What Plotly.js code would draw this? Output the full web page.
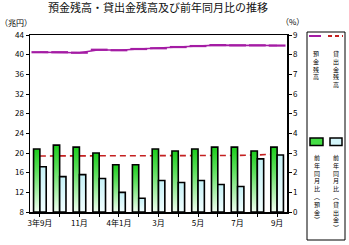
<!DOCTYPE html>
<html>
<head>
<meta charset="utf-8">
<script src="https://cdn.plot.ly/plotly-3.0.1.min.js"></script>
<style>
html,body{margin:0;padding:0;background:#fff;}
#chart{width:349px;height:245px;}
</style>
</head>
<body>
<div id="chart"></div>
<script>
// ---- data ----
const months = ['3年9月','10月','11月','12月','4年1月','2月','3月','4月','5月','6月','7月','8月','9月'];
const xTickText = ['3年9月','','11月','','4年1月','','3月','','5月','','7月','','9月'];
const depositBalance = [40.5,40.5,40.4,41.0,40.9,41.15,41.3,41.55,41.75,41.95,41.9,41.9,41.85]; // 兆円
const loanBalance = [19.4,19.4,19.4,19.4,19.4,19.4,19.5,19.5,19.4,19.4,19.5,19.6,19.8];        // 兆円
const depositYoY = [3.2,3.4,3.3,3.0,2.4,2.4,3.2,3.1,3.2,3.3,3.3,3.1,3.3];                     // %
const loanYoY = [2.3,1.8,1.9,1.7,1.0,0.7,1.6,1.5,1.6,1.4,1.3,2.7,2.9];                        // %
const leftTicks = [8,12,16,20,24,28,32,36,40,44];
const rightTicks = [0,1,2,3,4,5,6,7,8,9];
const seriesNames = ['預金残高','貸出金残高','前年同月比︵預金︶','前年同月比︵貸出金︶'];

// ---- layout helpers (pixel -> paper) ----
const W = 349, H = 245;
const M = {l:30, r:62, t:35, b:33};
const PW = W - M.l - M.r, PH = H - M.t - M.b;
const px = x => (x - M.l) / PW;
const py = y => (H - M.b - y) / PH;
const FONT = '"Noto Sans CJK JP", "Noto Sans", sans-serif';
const vert = s => Array.from(s).join('<br>');

const traces = [
  {type:'bar', name:seriesNames[2], x:months, y:depositYoY, yaxis:'y2',
   marker:{color:'#55dd55', line:{color:'#000', width:1.6}}, offsetgroup:'a', hoverinfo:'skip'},
  {type:'bar', name:seriesNames[3], x:months, y:loanYoY, yaxis:'y2',
   marker:{color:'#d4f6fa', line:{color:'#000', width:1.6}}, offsetgroup:'b', hoverinfo:'skip'},
  {type:'scatter', mode:'lines+markers', name:seriesNames[0], x:months, y:depositBalance, yaxis:'y',
   line:{color:'#a41ca4', width:1.6},
   marker:{symbol:'line-ew', size:12, line:{color:'#a41ca4', width:2.2}}},
  {type:'scatter', mode:'lines', name:seriesNames[1], x:months, y:loanBalance, yaxis:'y',
   line:{color:'#c42020', width:1.6, dash:'6px,4px'}}
];

const shapes = [
  // legend frame
  {type:'rect', xref:'paper', yref:'paper', x0:px(307), x1:px(345), y0:py(32), y1:py(240),
   line:{color:'#000', width:1}, fillcolor:'rgba(0,0,0,0)'},
  {type:'line', xref:'paper', yref:'paper', x0:px(309), x1:px(321), y0:py(36), y1:py(36),
   line:{color:'#a41ca4', width:2}},
  {type:'line', xref:'paper', yref:'paper', x0:px(328), x1:px(343), y0:py(36), y1:py(36),
   line:{color:'#c42020', width:2, dash:'4px,3px'}},
  {type:'rect', xref:'paper', yref:'paper', x0:px(310), x1:px(323), y0:py(138), y1:py(145.5),
   line:{color:'#000', width:1.5}, fillcolor:'#44dd44'},
  {type:'rect', xref:'paper', yref:'paper', x0:px(330), x1:px(342), y0:py(138), y1:py(145.5),
   line:{color:'#000', width:1.5}, fillcolor:'#d4f6fa'}
];

const annFont = {family:FONT, size:6, color:'#000'};
const annotations = [
  {xref:'paper', yref:'paper', x:px(16), y:py(23), text:'（兆円）', showarrow:false,
   font:{family:FONT, size:8, color:'#000'}, xanchor:'center', yanchor:'middle'},
  {xref:'paper', yref:'paper', x:px(292), y:py(21), text:'（%）', showarrow:false,
   font:{family:FONT, size:8, color:'#000'}, xanchor:'center', yanchor:'middle'},
  {xref:'paper', yref:'paper', x:px(315.5), y:py(47), text:vert(seriesNames[0]), showarrow:false,
   font:annFont, xanchor:'center', yanchor:'top'},
  {xref:'paper', yref:'paper', x:px(335.5), y:py(47), text:vert(seriesNames[1]), showarrow:false,
   font:annFont, xanchor:'center', yanchor:'top'},
  {xref:'paper', yref:'paper', x:px(316.5), y:py(151), text:vert(seriesNames[2]), showarrow:false,
   font:annFont, xanchor:'center', yanchor:'top'},
  {xref:'paper', yref:'paper', x:px(336), y:py(151), text:vert(seriesNames[3]), showarrow:false,
   font:annFont, xanchor:'center', yanchor:'top'}
];

const tickFont = {family:FONT, size:8, color:'#000'};
const layout = {
  width:W, height:H,
  margin:M,
  paper_bgcolor:'#fff', plot_bgcolor:'#fff',
  showlegend:false,
  barmode:'group', bargap:0.36, bargroupgap:0,
  title:{text:'預金残高・貸出金残高及び前年同月比の推移', x:158/W, xanchor:'center',
         y:1 - 8/H, yanchor:'middle', font:{family:FONT, size:11, color:'#111'}},
  xaxis:{type:'category', tickvals:months, ticktext:xTickText, tickangle:0,
         ticks:'outside', ticklen:3, tickcolor:'#000', tickfont:tickFont,
         showline:true, linecolor:'#000', linewidth:1.5, mirror:true, showgrid:false,
         range:[-0.5, months.length - 0.5]},
  yaxis:{range:[8,44], tickvals:leftTicks, ticks:'outside', ticklen:3, tickcolor:'#000',
         tickfont:tickFont, showline:true, linecolor:'#000', linewidth:1.5,
         showgrid:false, zeroline:false},
  yaxis2:{range:[0,9], tickvals:rightTicks, overlaying:'y', side:'right',
          ticks:'outside', ticklen:3, tickcolor:'#000', tickfont:tickFont,
          showline:true, linecolor:'#000', linewidth:1.5, showgrid:false, zeroline:false},
  shapes:shapes, annotations:annotations
};

Plotly.newPlot('chart', traces, layout, {staticPlot:true, displayModeBar:false}).then(gd => {
  // vertical gradient fill for the bars (style only)
  const svg = gd.querySelector('svg.main-svg');
  let defs = svg.querySelector('defs');
  const NS = 'http://www.w3.org/2000/svg';
  function grad(id, stops) {
    const g = document.createElementNS(NS, 'linearGradient');
    g.setAttribute('id', id);
    g.setAttribute('x1','0'); g.setAttribute('y1','0');
    g.setAttribute('x2','0'); g.setAttribute('y2','1');
    stops.forEach(([o,c]) => {
      const s = document.createElementNS(NS, 'stop');
      s.setAttribute('offset', o); s.setAttribute('stop-color', c);
      g.appendChild(s);
    });
    defs.appendChild(g);
  }
  grad('gGreen', [['0','#1ccc1c'],['0.35','#5ce05c'],['1','#f2fff2']]);
  grad('gBlue', [['0','#c6f1f7'],['1','#f2ffff']]);
  const barTraces = gd.querySelectorAll('.barlayer .trace');
  const ids = ['gGreen','gBlue'];
  barTraces.forEach((t, i) => {
    t.querySelectorAll('.point path').forEach(p => { p.style.fill = 'url(#' + ids[i] + ')'; });
  });
});
</script>
</body>
</html>
